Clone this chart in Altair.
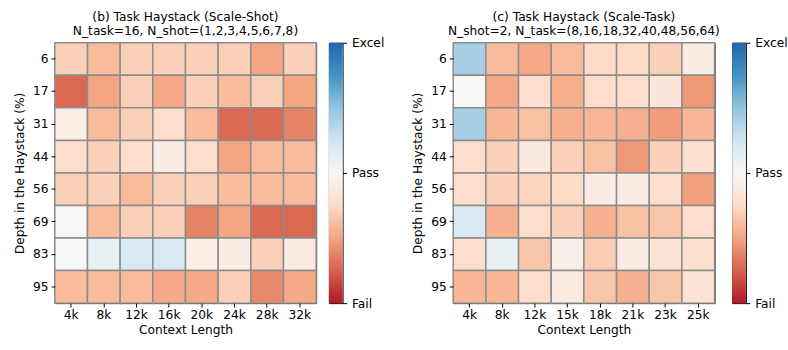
import altair as alt
import pandas as pd

depths = ["6", "17", "31", "44", "56", "69", "83", "95"]
ctx_b = ["4k", "8k", "12k", "16k", "20k", "24k", "28k", "32k"]
ctx_c = ["4k", "8k", "12k", "15k", "18k", "21k", "23k", "25k"]

# score: -1 = Fail, 0 = Pass, 1 = Excel (rows = depth, cols = context length)
vals_b = [
    [-0.30, -0.40, -0.30, -0.30, -0.30, -0.30, -0.50, -0.30],
    [-0.72, -0.50, -0.30, -0.48, -0.30, -0.40, -0.30, -0.50],
    [-0.08, -0.40, -0.30, -0.22, -0.40, -0.72, -0.72, -0.62],
    [-0.22, -0.30, -0.22, -0.10, -0.22, -0.50, -0.40, -0.40],
    [-0.30, -0.30, -0.40, -0.30, -0.30, -0.40, -0.40, -0.40],
    [0.00, -0.40, -0.30, -0.30, -0.62, -0.50, -0.72, -0.72],
    [0.00, 0.10, 0.20, 0.20, -0.08, -0.10, -0.30, -0.10],
    [-0.40, -0.40, -0.40, -0.48, -0.48, -0.30, -0.60, -0.48],
]
vals_c = [
    [0.42, -0.40, -0.48, -0.40, -0.25, -0.25, -0.30, -0.10],
    [0.00, -0.48, -0.22, -0.46, -0.22, -0.22, -0.15, -0.55],
    [0.42, -0.42, -0.37, -0.46, -0.42, -0.45, -0.53, -0.42],
    [-0.22, -0.30, -0.13, -0.30, -0.37, -0.55, -0.30, -0.20],
    [-0.22, -0.30, -0.28, -0.25, -0.10, -0.10, -0.22, -0.52],
    [0.20, -0.45, -0.22, -0.30, -0.45, -0.37, -0.35, -0.22],
    [-0.22, 0.10, -0.35, -0.07, -0.32, -0.10, -0.18, -0.20],
    [-0.42, -0.42, -0.22, -0.12, -0.35, -0.45, -0.35, -0.18],
]

titles_b = ["(b) Task Haystack (Scale-Shot)", "N_task=16, N_shot=(1,2,3,4,5,6,7,8)"]
titles_c = ["(c) Task Haystack (Scale-Task)", "N_shot=2, N_task=(8,16,18,32,40,48,56,64)"]

cbar_ticks = [-1, 0, 1]
cbar_labels = ["Fail", "Pass", "Excel"]

FONT = "DejaVu Sans"
FS = 12.5
cmap_domain = [-1, -0.75, -0.5, -0.25, 0, 0.25, 0.5, 0.75, 1]
cmap_range = ["#b2182b", "#d6604d", "#f4a582", "#fddbc7", "#f7f7f7",
              "#d1e5f0", "#92c5de", "#4393c3", "#2166ac"]

color_scale = alt.Scale(domain=cmap_domain, range=cmap_range, clamp=True)


def title_params(text):
    return alt.TitleParams(text=text, anchor="middle", frame="group",
                           fontSize=FS, fontWeight="normal", font=FONT,
                           color="black", offset=5, lineHeight=14)


def frame(ctx, vals):
    rows = []
    for i, d in enumerate(depths):
        for j, c in enumerate(ctx):
            rows.append({"depth": d, "ctx": c, "score": vals[i][j]})
    return pd.DataFrame(rows)


def heat(ctx, vals, title):
    df = frame(ctx, vals)
    return (
        alt.Chart(df)
        .mark_rect(stroke="#8c8c8c", strokeWidth=1.5)
        .encode(
            x=alt.X("ctx:O", sort=ctx, title="Context Length",
                    scale=alt.Scale(paddingInner=0, paddingOuter=0),
                    axis=alt.Axis(labelAngle=0, tickSize=4, tickColor="black",
                                  domain=False, labelPadding=2, titlePadding=3)),
            y=alt.Y("depth:O", sort=depths, title="Depth in the Haystack (%)",
                    scale=alt.Scale(paddingInner=0, paddingOuter=0),
                    axis=alt.Axis(tickSize=4, tickColor="black", domain=False,
                                  labelPadding=3, titlePadding=6)),
            color=alt.Color("score:Q", scale=color_scale, legend=None),
        )
        .properties(width=267, height=266, title=title_params(title))
    )


def colorbar():
    df = pd.DataFrame({"lo": [cmap_domain[0]], "hi": [cmap_domain[-1]]})
    n = len(cmap_range) - 1
    stops = [alt.GradientStop(offset=i / n, color=c) for i, c in enumerate(cmap_range)]
    label_expr = " : ".join(
        f"datum.value == {v} ? '{l}'" for v, l in zip(cbar_ticks, cbar_labels)
    ) + " : ''"
    return (
        alt.Chart(df)
        .mark_rect(
            color=alt.Gradient(gradient="linear", stops=stops,
                               x1=0, x2=0, y1=1, y2=0)
        )
        .encode(
            y=alt.Y("lo:Q", scale=alt.Scale(domain=[-1, 1], nice=False, zero=False),
                    axis=alt.Axis(orient="right", values=cbar_ticks, labelExpr=label_expr,
                                  tickSize=4, tickColor="black", domain=False,
                                  grid=False, title=None, labelPadding=5,
                                  labelFlush=False)),
            y2="hi:Q",
        )
        .properties(width=14, height=266)
    )


left = alt.hconcat(heat(ctx_b, vals_b, titles_b), colorbar(), spacing=10)
right = alt.hconcat(heat(ctx_c, vals_c, titles_c), colorbar(), spacing=10)

chart = (
    alt.hconcat(left, right, spacing=27)
    .resolve_scale(color="independent")
    .configure_view(stroke="black", strokeWidth=1)
    .configure_axis(labelFont=FONT, titleFont=FONT, labelFontSize=FS,
                    titleFontSize=FS, labelColor="black", titleColor="black",
                    titleFontWeight="normal")
    .properties(padding={"left": 13, "top": 7, "right": 0, "bottom": 0},
                background="white")
)

chart.save("out.html", embed_options={"renderer": "svg", "actions": False})
